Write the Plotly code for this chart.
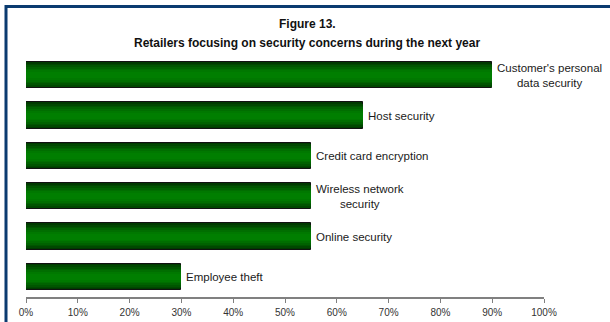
import plotly.graph_objects as go

# Survey results: share of retailers focusing on each security concern
categories = [
    "Customer's personal data security",
    "Host security",
    "Credit card encryption",
    "Wireless network security",
    "Online security",
    "Employee theft",
]
bar_labels = [
    "Customer's personal<br>data security",
    "Host security",
    "Credit card encryption",
    "Wireless network<br>security",
    "Online security",
    "Employee theft",
]
values = [90, 65, 55, 55, 55, 30]
x_ticks = [0, 10, 20, 30, 40, 50, 60, 70, 80, 90, 100]
x_tick_labels = [f"{t}%" for t in x_ticks]

W, H = 610, 322
ML, MR, MT, MB = 26, 66, 55, 25
PW, PH = W - ML - MR, H - MT - MB

fig = go.Figure()

# Layered bars of shrinking width give the bars a shaded, cylinder-like fill
bar_width = 0.65
shades = ["#003a00", "#004800", "#005500", "#006200", "#006e00", "#007800", "#007e00"]
for i, col in enumerate(shades):
    w = bar_width * (1 - i / len(shades) * 0.9)
    fig.add_trace(go.Bar(
        x=values, y=categories, orientation="h",
        width=w,
        marker=dict(color=col,
                    line=dict(color="#111111", width=1 if i == 0 else 0)),
        hoverinfo="skip", showlegend=False,
    ))

# Category names written just past the end of each bar
for cat, lab, v in zip(categories, bar_labels, values):
    fig.add_annotation(
        x=v, y=cat, text=lab, showarrow=False,
        xanchor="left", yanchor="middle", xshift=3,
        align="center",
        font=dict(family="Liberation Sans, Arial", size=11.5, color="#1a1a1a"),
    )

def px_x(p):
    return (p - ML) / PW

def px_y(p):
    return (H - MB - p) / PH

# Two-line chart title, centred on the full figure width
title_font = dict(family="Liberation Sans, Arial", size=12, color="#111111")
fig.add_annotation(
    x=px_x(W / 2 + 2), xref="paper", y=px_y(24), yref="paper",
    text="<b>Figure 13.</b>", showarrow=False, yanchor="middle",
    font=title_font,
)
fig.add_annotation(
    x=px_x(W / 2 + 2), xref="paper", y=px_y(43), yref="paper",
    text="<b>Retailers focusing on security concerns during the next year</b>",
    showarrow=False, yanchor="middle", font=title_font,
)

# Navy frame edges along the top and left of the figure
frame = dict(color="#0b3b70", width=3)
fig.add_shape(type="line", xref="paper", yref="paper",
              x0=px_x(6), x1=px_x(W + 5), y0=px_y(6.5), y1=px_y(6.5), line=frame)
fig.add_shape(type="line", xref="paper", yref="paper",
              x0=px_x(6), x1=px_x(6), y0=px_y(5), y1=px_y(H + 5), line=frame)

fig.update_layout(
    width=W, height=H,
    margin=dict(l=ML, r=MR, t=MT, b=MB),
    paper_bgcolor="white", plot_bgcolor="white",
    barmode="overlay",
    bargap=0,
    xaxis=dict(
        range=[0, 100], tickvals=x_ticks, ticktext=x_tick_labels,
        showgrid=False, zeroline=False,
        showline=True, linecolor="#808080", linewidth=1.5,
        ticks="outside", ticklen=4, tickcolor="#808080", tickwidth=1,
        tickfont=dict(family="Liberation Sans, Arial", size=10, color="#333333"),
        ticklabelstandoff=1,
        automargin=False,
        fixedrange=True,
    ),
    yaxis=dict(
        categoryorder="array", categoryarray=categories,
        autorange="reversed", showticklabels=False,
        showgrid=False, zeroline=False, showline=False, ticks="",
        fixedrange=True,
    ),
)

fig.write_html("out.html")
